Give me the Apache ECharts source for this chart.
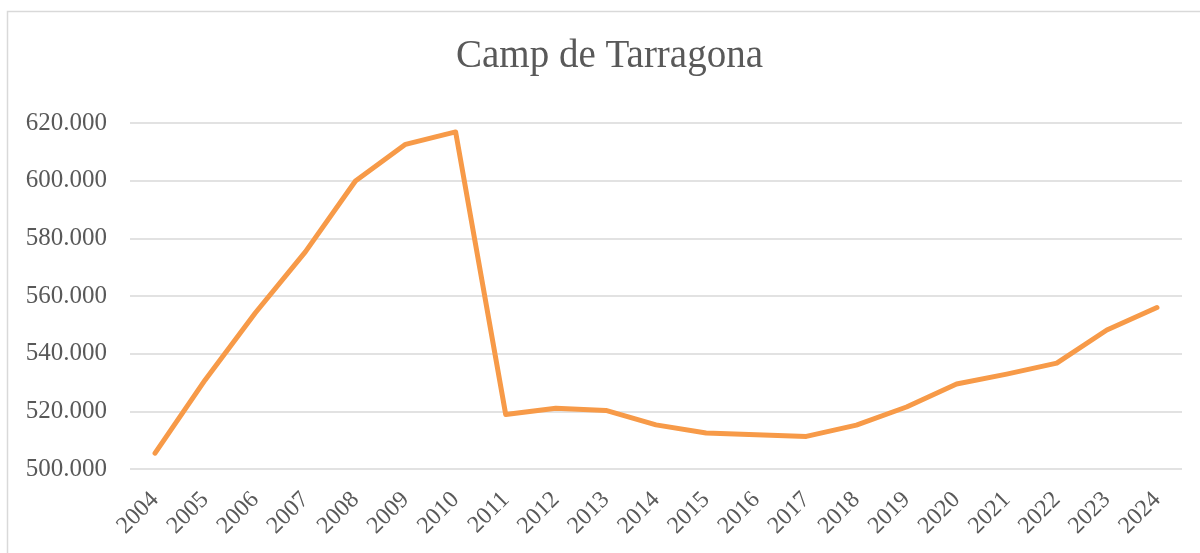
<!DOCTYPE html>
<html>
<head>
<meta charset="utf-8">
<title>Camp de Tarragona</title>
<script src="https://cdn.jsdelivr.net/npm/echarts@6/dist/echarts.min.js"></script>
<style>
  html, body { margin: 0; padding: 0; background: #fff; }
  #main { width: 1200px; height: 553px; }
</style>
</head>
<body>
<div id="main"></div>
<script>
// years on the x axis
var years = ['2004','2005','2006','2007','2008','2009','2010','2011','2012','2013','2014',
             '2015','2016','2017','2018','2019','2020','2021','2022','2023','2024'];
// population
var population = [505500, 530900, 554100, 575300, 599900, 612600, 616900, 518900, 521100, 520300, 515300,
                  512500, 511900, 511300, 515200, 521500, 529500, 532900, 536700, 548200, 556000];
var yMin = 500000, yMax = 620000, yStep = 20000;

var myChart = echarts.init(document.getElementById('main'));

var option = {
    animation: false,
    textStyle: { fontFamily: 'Liberation Serif' },
    title: {
        text: 'Camp de Tarragona',
        left: 451,
        top: 32,
        textStyle: { fontFamily: 'Liberation Serif', fontSize: 39, fontWeight: 'normal', color: '#595959' }
    },
    graphic: [{
        type: 'rect',
        shape: { x: 7.5, y: 11.5, width: 1210, height: 560 },
        style: { fill: 'none', stroke: '#d9d9d9', lineWidth: 1.5 },
        silent: true
    }],
    grid: { left: 130, right: 18, top: 123, bottom: 84 },
    xAxis: {
        type: 'category',
        data: years,
        boundaryGap: true,
        axisLine: { show: false },
        axisTick: { show: false },
        axisLabel: { rotate: 45, margin: 27, fontSize: 24, color: '#595959', fontFamily: 'Liberation Serif', interval: 0 }
    },
    yAxis: {
        type: 'value',
        min: yMin,
        max: yMax,
        interval: yStep,
        axisLine: { show: false },
        axisTick: { show: false },
        splitLine: { lineStyle: { color: '#d9d9d9', width: 1.5 } },
        axisLabel: {
            margin: 23,
            fontSize: 25,
            color: '#595959',
            fontFamily: 'Liberation Serif',
            formatter: function (val) {
                return String(val).replace(/\B(?=(\d{3})+(?!\d))/g, '.');
            }
        }
    },
    series: [{
        type: 'line',
        data: population,
        symbol: 'none',
        lineStyle: { color: '#f79a48', width: 5, cap: 'round', join: 'round' }
    }]
};

myChart.setOption(option);
</script>
</body>
</html>
